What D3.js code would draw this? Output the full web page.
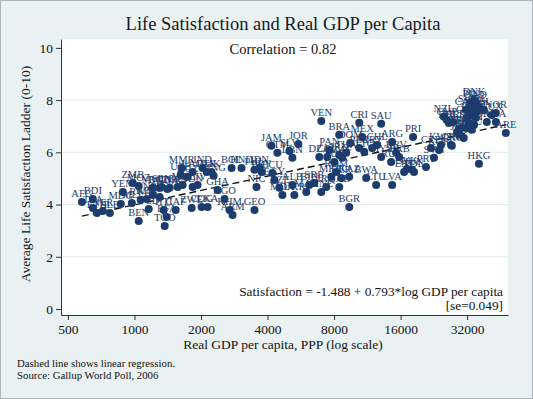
<!DOCTYPE html>
<html>
<head>
<meta charset="utf-8">
<script src="https://cdn.jsdelivr.net/npm/d3@7"></script>
<style>
  body { margin: 0; background: #fff; }
  svg text { font-family: "Liberation Serif", "DejaVu Serif", serif; }
</style>
</head>
<body>
<svg id="chart" width="533" height="399"></svg>
<script>
// Country codes, GDP per capita (PPP) and average ladder score
var countries = ["AFG","BDI","TZA","ETH","NER","SLE","ZMB","YEM","MDG","MLI",
  "BEN","MOZ","RWA","KEN","TCD","NPL","MWI","BGD","UGA","TGO",
  "BFA","NGA","HTI","CAF","MMR","UZB","KGZ","LAO","IND","PAK",
  "TJK","MNG","SEN","CMR","GIN","MRT","SDN","CIV","GHA","AGO",
  "ZWE","COG","LKA","KHM","ARM","GEO","NIC","BOL","HND","PHL",
  "IDN","JAM","JOR","GTM","SLV","LBN","DZA","VEN","PAN","COL",
  "IRN","TUR","ZAF","THA","ROM","MKD","BLR","KAZ","ECU","PRY",
  "EGY","AZE","ALB","UKR","MDA","BIH","SRB","MNE","IRQ","MAR",
  "BGR","PER","TTO","DOM","BWA","LTU","LVA","CHL","URY","MYS",
  "HRV","BRB","SVK","EST","GAB","CRI","SAU","BRA","MEX","ARG",
  "PRI","CZE","RUS","POL","PRT","HUN","SVN","KOR","KWT","ISR",
  "GRC","ESP","ITA","NZL","CYP","BHR","MLT","FRA","TWN","JPN",
  "OMN","SGP","QAT","DEU","HKG","DNK","FIN","NLD","SWE","IRL",
  "CAN","AUS","AUT","ISL","BEL","GBR","CHE","LUX","NOR","USA",
  "BRN","ARE"];

var gdp = [578,648,648,676,719,774,983,886,867,973,
  1045,1045,1067,1136,1160,1210,1210,1300,1300,1370,
  1400,1410,1356,1536,1635,1618,1740,1833,2033,2120,
  2233,2280,1328,1443,1568,1652,1833,1930,2377,2557,
  1814,2013,2142,2693,2778,3491,3565,2749,3050,3491,
  3678,4165,5515,4433,5022,5181,6859,7003,7611,7454,
  8444,8016,8711,9081,8186,7770,8621,9371,4208,3755,
  4297,4525,5181,5290,4669,6182,6511,7003,7377,5992,
  9371,10400,10950,9470,11180,12400,14650,12540,11900,13070,
  15270,15760,17100,16600,8444,10400,13070,8444,10725,14650,
  18220,21960,14500,18400,20850,18040,22660,23870,24370,27050,
  27300,29400,30900,25100,25900,26500,27700,31600,30000,29400,
  28800,32600,34400,33600,36200,34400,33300,35100,32600,36200,
  31600,33600,35400,38100,33300,31900,35100,41400,43200,43200,
  39300,47900];

var ladder = [4.10,4.21,3.87,3.68,3.75,3.68,4.83,4.48,4.02,4.06,
  3.37,4.71,4.18,4.21,3.83,4.37,4.64,4.64,4.29,3.18,
  3.52,4.60,3.79,3.79,5.40,5.13,5.06,5.25,5.40,5.25,
  5.25,5.10,4.67,4.64,4.67,4.75,4.67,4.75,4.56,4.21,
  3.87,3.91,3.91,3.79,3.60,3.79,4.67,5.40,5.40,5.33,
  5.40,6.25,6.32,5.98,6.05,5.79,5.82,7.20,6.09,5.82,
  5.90,5.63,5.79,5.98,5.25,5.06,5.02,5.06,5.21,5.25,
  4.94,4.64,4.75,4.37,4.37,4.75,4.83,4.48,4.67,4.48,
  3.91,6.17,6.02,6.36,5.02,4.75,4.75,6.28,6.17,5.82,
  5.98,5.82,5.36,5.25,4.67,7.13,7.09,6.67,6.59,6.40,
  6.59,6.17,5.63,5.25,5.44,5.33,5.79,6.09,6.28,6.28,
  6.25,6.90,6.55,7.36,7.24,7.13,7.16,6.93,6.93,6.67,
  6.78,7.13,7.05,6.86,5.56,8.00,7.93,7.89,7.74,7.74,
  7.62,7.62,7.55,7.62,7.43,7.32,7.32,7.43,7.51,7.16,
  7.16,6.74];

var xTicks = [500, 1000, 2000, 4000, 8000, 16000, 32000];
var yTicks = [0, 2, 4, 6, 8, 10];

// Regression: satisfaction = a + b * ln(gdp)
var regA = -1.488;
var regB = 0.793;

var svg = d3.select("#chart");
var navy = "#1b3c6c";

// Outer background and frame
svg.append("rect")
  .attr("x", 0.5).attr("y", 0.5)
  .attr("width", 532).attr("height", 398)
  .attr("fill", "#eaf1f3")
  .attr("stroke", "#a9b8bf");

var x = d3.scaleLog().domain([465, 49000]).range([61, 508]);
var y = d3.scaleLinear().domain([-0.23, 10.34]).range([315, 39]);

// White plot region
svg.append("rect")
  .attr("x", x.range()[0]).attr("y", y.range()[1])
  .attr("width", x.range()[1] - x.range()[0])
  .attr("height", y.range()[0] - y.range()[1])
  .attr("fill", "#fff");

// Horizontal grid lines
svg.append("g").selectAll("line")
  .data(yTicks.filter(function(d) { return d > 0 && d < 10; }))
  .enter().append("line")
  .attr("x1", x.range()[0]).attr("x2", x.range()[1])
  .attr("y1", function(d) { return y(d); })
  .attr("y2", function(d) { return y(d); })
  .attr("stroke", "#e2eaed");

var yAxis = svg.append("g")
  .attr("transform", "translate(" + x.range()[0] + ",0)")
  .call(d3.axisLeft(y).tickValues(yTicks).tickSize(5).tickSizeOuter(0).tickPadding(3));

var xAxis = svg.append("g")
  .attr("transform", "translate(0," + y.range()[0] + ")")
  .call(d3.axisBottom(x).tickValues(xTicks).tickFormat(d3.format("d"))
    .tickSize(5).tickSizeOuter(0).tickPadding(4));

[xAxis, yAxis].forEach(function(ax) {
  ax.selectAll("text")
    .attr("font-size", 13.5)
    .attr("fill", "#111");
  ax.selectAll("line").attr("stroke", "#333");
  ax.select(".domain").attr("stroke", "#333");
});

// Dashed regression line over the data range
var lineData = d3.extent(gdp);
svg.append("path")
  .datum(lineData)
  .attr("fill", "none")
  .attr("stroke", "#111")
  .attr("stroke-width", 1.4)
  .attr("stroke-dasharray", "7,4")
  .attr("d", d3.line()
    .x(function(d) { return x(d); })
    .y(function(d) { return y(regA + regB * Math.log(d)); }));

// Markers and country labels
var pts = countries.map(function(c, i) {
  return {code: c, gdp: gdp[i], ladder: ladder[i]};
});

svg.append("g").selectAll("circle")
  .data(pts)
  .enter().append("circle")
  .attr("cx", function(d) { return x(d.gdp); })
  .attr("cy", function(d) { return y(d.ladder); })
  .attr("r", 4)
  .attr("fill", navy);

svg.append("g").selectAll("text")
  .data(pts)
  .enter().append("text")
  .attr("x", function(d) { return x(d.gdp); })
  .attr("y", function(d) { return y(d.ladder) - 5; })
  .attr("text-anchor", "middle")
  .attr("font-size", 10.5)
  .attr("fill", navy)
  .text(function(d) { return d.code; });

// Titles and notes
svg.append("text")
  .attr("x", 283).attr("y", 30)
  .attr("text-anchor", "middle")
  .attr("font-size", 18.5)
  .attr("fill", "#141a2a")
  .text("Life Satisfaction and Real GDP per Capita");

svg.append("text")
  .attr("x", 283).attr("y", 54)
  .attr("text-anchor", "middle")
  .attr("font-size", 14.5)
  .attr("fill", "#111")
  .text("Correlation = 0.82");

svg.append("text")
  .attr("x", 503).attr("y", 296)
  .attr("text-anchor", "end")
  .attr("font-size", 13.3)
  .attr("fill", "#111")
  .text("Satisfaction = " + regA + " + " + regB + "*log GDP per capita");

svg.append("text")
  .attr("x", 503).attr("y", 310)
  .attr("text-anchor", "end")
  .attr("font-size", 13.3)
  .attr("fill", "#111")
  .text("[se=0.049]");

svg.append("text")
  .attr("x", 283).attr("y", 349)
  .attr("text-anchor", "middle")
  .attr("font-size", 13.5)
  .attr("fill", "#111")
  .text("Real GDP per capita, PPP (log scale)");

svg.append("text")
  .attr("transform", "translate(30,174) rotate(-90)")
  .attr("text-anchor", "middle")
  .attr("font-size", 13.5)
  .attr("fill", "#111")
  .text("Average Life Satisfaction Ladder (0-10)");

svg.append("text")
  .attr("x", 17).attr("y", 367)
  .attr("font-size", 10.8)
  .attr("fill", "#111")
  .text("Dashed line shows linear regression.");

svg.append("text")
  .attr("x", 17).attr("y", 379)
  .attr("font-size", 10.8)
  .attr("fill", "#111")
  .text("Source: Gallup World Poll, 2006");
</script>
</body>
</html>
